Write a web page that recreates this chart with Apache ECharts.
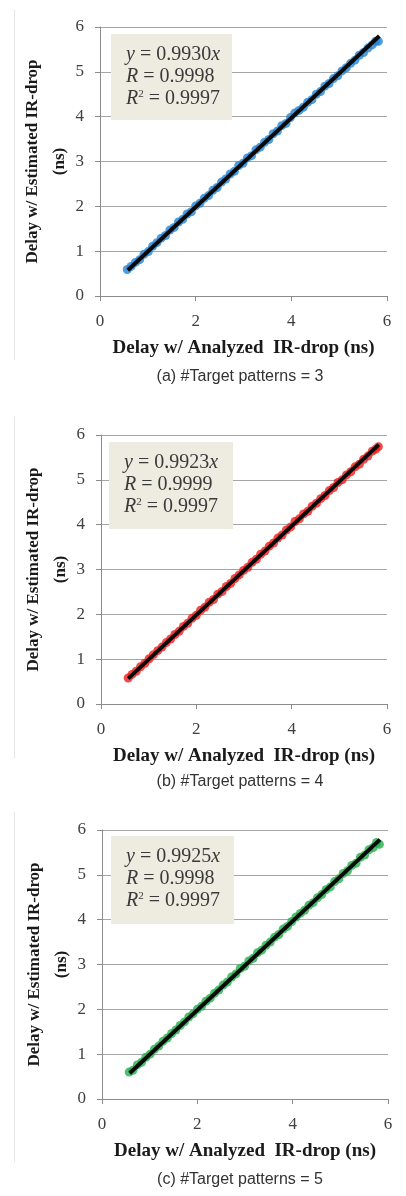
<!DOCTYPE html>
<html>
<head>
<meta charset="utf-8">
<script src="https://cdn.jsdelivr.net/npm/echarts@6/dist/echarts.min.js"></script>
<style>
  html, body { margin: 0; padding: 0; background: #fff; }
  #chart { width: 406px; height: 1196px; }
</style>
</head>
<body>
<div id="chart"></div>
<script>
// analyzed delay (x), shared by the three panels
const xs = [0.57, 0.65, 0.74, 0.83, 0.92, 1.01, 1.10, 1.19, 1.28, 1.37, 1.46, 1.55, 1.64, 1.73, 1.82,
  1.91, 2.00, 2.09, 2.18, 2.27, 2.36, 2.45, 2.54, 2.63, 2.72, 2.81, 2.90, 2.99, 3.08, 3.17,
  3.26, 3.35, 3.44, 3.53, 3.62, 3.71, 3.80, 3.89, 3.98, 4.07, 4.16, 4.25, 4.34, 4.43, 4.52,
  4.61, 4.70, 4.79, 4.88, 4.97, 5.06, 5.15, 5.24, 5.33, 5.42, 5.51, 5.60, 5.69, 5.76, 5.82];

// estimated delay (y) for each panel
const yA = [0.59, 0.66, 0.75, 0.81, 0.93, 0.99, 1.11, 1.19, 1.29, 1.35, 1.47, 1.53, 1.65, 1.71, 1.83,
  1.88, 2.01, 2.07, 2.18, 2.24, 2.36, 2.42, 2.54, 2.61, 2.72, 2.78, 2.91, 2.96, 3.08, 3.13,
  3.26, 3.32, 3.43, 3.49, 3.62, 3.68, 3.80, 3.85, 3.98, 4.08, 4.14, 4.21, 4.32, 4.38, 4.50,
  4.56, 4.68, 4.74, 4.85, 4.91, 5.02, 5.09, 5.19, 5.26, 5.37, 5.43, 5.53, 5.60, 5.68, 5.68];
const yB = [0.58, 0.66, 0.73, 0.83, 0.91, 1.01, 1.10, 1.19, 1.27, 1.37, 1.45, 1.55, 1.62, 1.73, 1.80,
  1.91, 1.98, 2.09, 2.16, 2.27, 2.33, 2.45, 2.51, 2.62, 2.69, 2.80, 2.88, 2.98, 3.05, 3.16,
  3.23, 3.34, 3.41, 3.52, 3.59, 3.70, 3.77, 3.88, 3.95, 4.07, 4.13, 4.24, 4.30, 4.41, 4.48,
  4.58, 4.65, 4.76, 4.83, 4.94, 5.00, 5.11, 5.18, 5.29, 5.35, 5.46, 5.53, 5.64, 5.68, 5.74];
const yC = [0.60, 0.64, 0.76, 0.82, 0.93, 1.00, 1.11, 1.18, 1.29, 1.36, 1.46, 1.54, 1.64, 1.72, 1.83,
  1.90, 2.00, 2.07, 2.18, 2.25, 2.36, 2.43, 2.54, 2.61, 2.72, 2.79, 2.91, 2.96, 3.08, 3.14,
  3.26, 3.32, 3.43, 3.50, 3.61, 3.67, 3.79, 3.85, 3.96, 4.06, 4.14, 4.21, 4.32, 4.38, 4.49,
  4.56, 4.67, 4.73, 4.85, 4.91, 5.03, 5.09, 5.21, 5.26, 5.39, 5.44, 5.56, 5.61, 5.72, 5.68];

// black fitted line end points
const trendA = [[0.58, 0.576], [5.84, 5.80]];
const trendB = [[0.57, 0.566], [5.83, 5.785]];
const trendC = [[0.58, 0.576], [5.83, 5.786]];

const slopes = ['0.9930', '0.9923', '0.9925'];
const rValues = ['0.9998', '0.9999', '0.9998'];
const r2Values = ['0.9997', '0.9997', '0.9997'];
const captions = ['(a) #Target patterns = 3', '(b) #Target patterns = 4', '(c) #Target patterns = 5'];
const colors = ['#2286d6', '#f21c1c', '#22b04c'];

const ticksY = [0, 6, 1];
const ticksX = [0, 6, 2];

const serif = 'Liberation Serif';
const sans = 'Liberation Sans';

// panel layout
const panels = [
  { left: 100, top: 27, width: 287, height: 269, caption: 377, box: [111, 34, 121, 86], border: [10, 360] },
  { left: 101, top: 435, width: 286, height: 269, caption: 782, box: [109, 442, 124, 87], border: [417, 758] },
  { left: 102, top: 830, width: 286, height: 269, caption: 1180, box: [111, 836, 123, 88], border: [812, 1162] }
];

const ys = [yA, yB, yC];
const trends = [trendA, trendB, trendC];

const chart = echarts.init(document.getElementById('chart'));

const grid = [], xAxis = [], yAxis = [], series = [], graphic = [];

panels.forEach((p, i) => {
  grid.push({ left: p.left, top: p.top, width: p.width, height: p.height });
  xAxis.push({
    type: 'value', gridIndex: i, min: ticksX[0], max: ticksX[1], interval: ticksX[2],
    name: 'Delay w/ Analyzed  IR-drop (ns)',
    nameLocation: 'middle', nameGap: 43, nameMoveOverlap: false,
    nameTextStyle: { fontFamily: serif, fontWeight: 'bold', fontSize: 19, color: '#1a1a1a' },
    axisLine: { show: true, lineStyle: { color: '#8c8c8c', width: 1 } },
    axisTick: { show: true, length: 5, lineStyle: { color: '#8c8c8c' } },
    splitLine: { show: false },
    axisLabel: { fontFamily: serif, fontSize: 17, color: '#404040', margin: 17 }
  });
  yAxis.push({
    type: 'value', gridIndex: i, min: ticksY[0], max: ticksY[1], interval: ticksY[2],
    name: 'Delay w/ Estimated IR-drop\n(ns)',
    nameLocation: 'middle', nameRotate: 90, nameGap: 27, nameMoveOverlap: false,
    nameTextStyle: { fontFamily: serif, fontWeight: 'bold', fontSize: 17, color: '#1a1a1a', lineHeight: 27 },
    axisLine: { show: true, lineStyle: { color: '#8c8c8c', width: 1 } },
    axisTick: { show: true, length: 5, lineStyle: { color: '#8c8c8c' } },
    splitLine: { show: true, lineStyle: { color: '#a6a6a6', width: 1 } },
    axisLabel: { fontFamily: serif, fontSize: 17, color: '#404040', margin: 16 }
  });

  series.push({
    type: 'scatter', xAxisIndex: i, yAxisIndex: i,
    data: xs.map((x, k) => [x, ys[i][k]]),
    symbol: 'circle', symbolSize: 9,
    itemStyle: { color: colors[i] },
    z: 2
  });
  series.push({
    type: 'line', xAxisIndex: i, yAxisIndex: i,
    data: trends[i],
    showSymbol: false,
    lineStyle: { color: '#0a0a0a', width: 4 },
    z: 3
  });

  // equation box
  graphic.push({
    type: 'rect',
    shape: { x: p.box[0], y: p.box[1], width: p.box[2], height: p.box[3] },
    style: { fill: '#eeece1' },
    z: 10
  });
  graphic.push({
    type: 'text',
    left: p.box[0] + 15, top: p.box[1] + 10,
    style: {
      text: '{i|y} = ' + slopes[i] + '{i|x}\n{i|R} = ' + rValues[i] + '\n{i|R}{s|2} = ' + r2Values[i],
      font: '20px ' + serif,
      fill: '#3a3a3a',
      lineHeight: 22,
      rich: {
        i: { fontStyle: 'italic', fontFamily: serif, fontSize: 20, fill: '#3a3a3a' },
        s: { fontFamily: serif, fontSize: 11, fill: '#3a3a3a', padding: [0, 0, 9, 0] }
      }
    },
    z: 11
  });

  // caption under each panel
  graphic.push({
    type: 'text',
    x: 240, y: p.caption,
    style: {
      text: captions[i],
      font: '16px ' + sans,
      fill: '#333',
      align: 'center',
      verticalAlign: 'middle'
    },
    z: 11
  });

  // faint left border of each panel image
  graphic.push({
    type: 'line',
    shape: { x1: 14.5, y1: p.border[0], x2: 14.5, y2: p.border[1] },
    style: { stroke: '#e6e6e6', lineWidth: 1 },
    z: 1
  });
});

chart.setOption({
  animation: false,
  grid: grid,
  xAxis: xAxis,
  yAxis: yAxis,
  series: series,
  graphic: graphic
});
</script>
</body>
</html>
